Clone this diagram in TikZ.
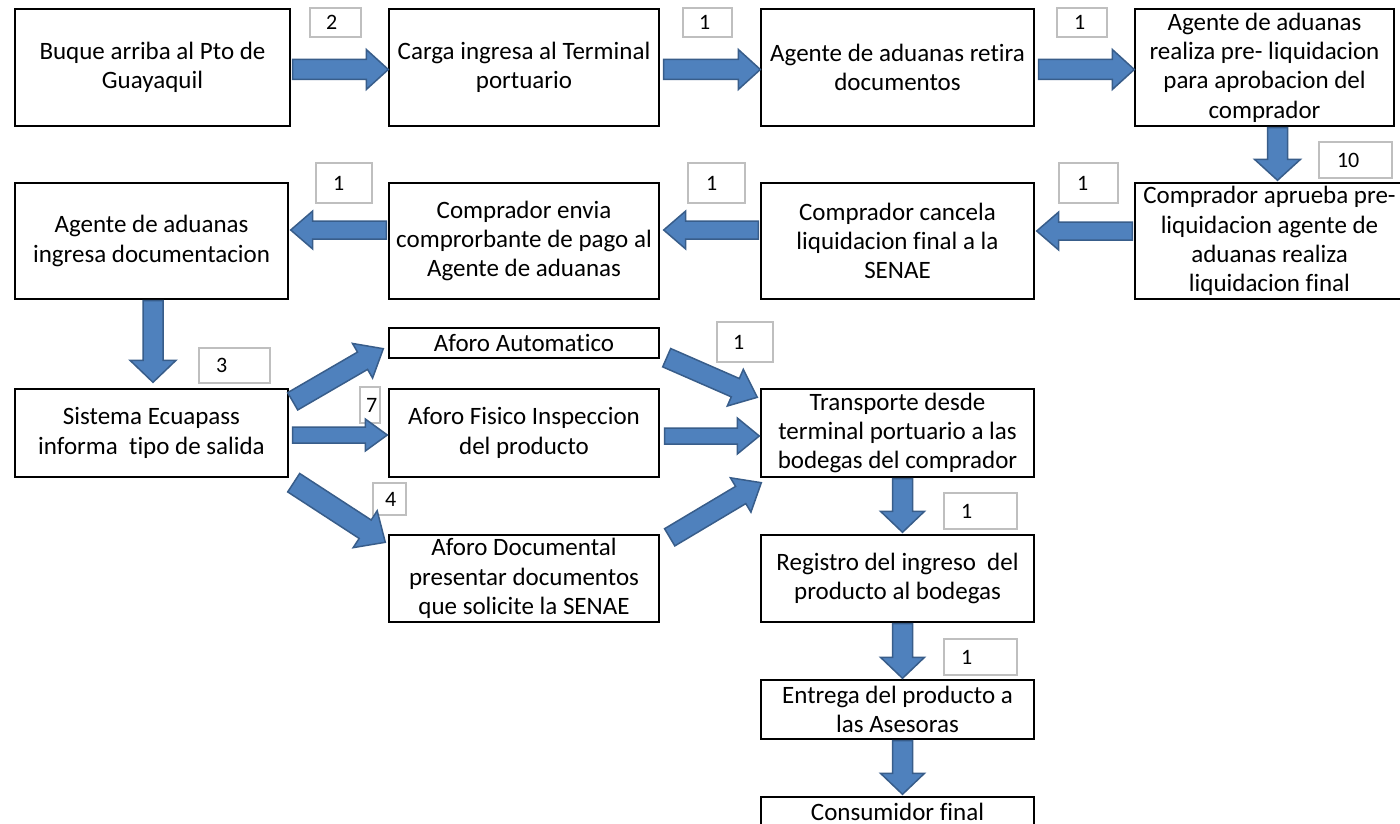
\documentclass[tikz,border=0pt]{standalone}
\usepackage{fontspec}
\setmainfont{Carlito}[Ligatures=NoCommon]
\usetikzlibrary{calc}
\definecolor{arrfill}{HTML}{4F81BD}
\definecolor{arrline}{HTML}{385D8A}
\definecolor{lblline}{HTML}{BFBFBF}
\tikzset{
  box/.style={draw=black, line width=1.4pt, fill=white, align=center, inner sep=0pt,
    font=\fontsize{25}{29.3}\selectfont},
  lbl/.style={draw=lblline, line width=1.2pt, fill=white, align=left, inner ysep=0pt,
    font=\fontsize{22}{26}\selectfont},
  blockarrow/.style={fill=arrfill, draw=arrline, line width=1.5pt, line join=miter},
}
\newcommand\bx[6]{\node[box, minimum width={(#4-#2)*1pt}, minimum height={(#5-#3)*1pt}] (#1) at ({(#2+#4)/2},{(#3+#5)/2}) {#6};}
\newcommand\lb[7]{\node[lbl, minimum width={(#4-#2)*1pt}, minimum height={(#5-#3)*1pt}, inner xsep={#6*1pt}, text width={(#4-#2-2*#6)*1pt}] (#1) at ({(#2+#4)/2},{(#3+#5)/2}) {#7};}
% body half width, head half width, head length, from, to
\newcommand\barrow[5]{%
  \coordinate (hb) at ($(#5)!#3pt!(#4)$);
  \draw[blockarrow] ($(#4)!#1pt!90:(#5)$) -- ($(hb)!#1pt!90:(#5)$) -- ($(hb)!#2pt!90:(#5)$)
    -- (#5) -- ($(hb)!#2pt!-90:(#5)$) -- ($(hb)!#1pt!-90:(#5)$) -- ($(#4)!#1pt!-90:(#5)$) -- cycle;}
\begin{document}
\begin{tikzpicture}[x=1pt,y=-1pt]
\useasboundingbox (0,0) rectangle (1400,824);
\fill[white] (0,0) rectangle (1400,824);
% main boxes
\bx{A}{15}{9}{290}{126}{Buque arriba al Pto de\\Guayaquil}
\bx{B}{389}{9}{659}{126}{Carga ingresa al Terminal\\portuario}
\bx{C}{761}{9}{1034}{126}{Agente de aduanas retira\\documentos}
\bx{D}{1135}{9}{1394}{126}{Agente de aduanas\\realiza pre- liquidacion\\para aprobacion del\\comprador}
\bx{E}{15}{183}{288}{299}{Agente de aduanas\\ingresa documentacion}
\bx{F}{389}{183}{659}{299}{Comprador envia\\comprorbante de pago al\\Agente de aduanas}
\bx{G}{761}{183}{1034}{299}{Comprador cancela\\liquidacion final a la\\SENAE}
\bx{H}{1135}{183}{1404}{299}{Comprador aprueba pre-\\liquidacion agente de\\aduanas realiza\\liquidacion final}
\bx{I}{15}{389}{288}{477}{Sistema Ecuapass\\informa\ \ tipo de salida}
\bx{J}{389}{328}{659}{358}{Aforo Automatico}
\bx{K}{389}{389}{659}{477}{Aforo Fisico Inspeccion\\del producto}
\bx{L}{389}{535}{659}{622}{Aforo Documental\\presentar documentos\\que solicite la SENAE}
\bx{M}{761}{389}{1034}{477}{Transporte desde\\terminal portuario a las\\bodegas del comprador}
\bx{N}{761}{535}{1034}{622}{Registro del ingreso\ \ del\\producto al bodegas}
\bx{O}{761}{680}{1034}{739}{Entrega del producto a\\las Asesoras}
\bx{P}{761}{797}{1034}{826}{Consumidor final}
% time labels
\lb{l1}{310}{8}{361}{37}{16}{2}
\lb{l2}{683}{8}{732}{37}{16}{1}
\lb{l3}{1057}{8}{1107}{37}{17}{1}
\lb{l4}{1319}{142}{1392}{178}{18}{10}
\lb{l5}{1059}{163}{1118}{203}{18}{1}
\lb{l6}{688}{163}{745}{203}{18}{1}
\lb{l7}{316}{163}{372}{203}{17}{1}
\lb{l8}{199}{348}{270}{383}{17}{3}
\lb{l9}{360}{387}{380}{423}{6}{7}
\lb{l10}{373}{483}{406}{515}{12}{4}
\lb{l11}{717}{322}{773}{362}{16}{1}
\lb{l12}{944}{493}{1017}{529}{17}{1}
\lb{l13}{944}{639}{1017}{675}{17}{1}
% arrow end points
\coordinate (ab1) at ($(A.east)+(2,2)$);   \coordinate (ab2) at ($(B.west)+(0,2)$);
\coordinate (bc1) at ($(B.east)+(4,2)$);   \coordinate (bc2) at ($(C.west)+(0,2)$);
\coordinate (cd1) at ($(C.east)+(4,2)$);   \coordinate (cd2) at ($(D.west)+(0,2)$);
\coordinate (dh1) at ($(D.south)+(13,1)$); \coordinate (dh2) at ($(H.north)+(8,-2)$);
\coordinate (hg1) at ($(H.west)+(-2,-10)$); \coordinate (hg2) at ($(G.east)+(2,-10)$);
\coordinate (gf1) at ($(G.west)+(-2,-11)$);\coordinate (gf2) at ($(F.east)+(4,-11)$);
\coordinate (fe1) at ($(F.west)+(-2,-11)$);\coordinate (fe2) at ($(E.east)+(2,-11)$);
\coordinate (ei1) at ($(E.south)+(1.5,1)$);\coordinate (ei2) at ($(I.north)+(1.5,-6)$);
\coordinate (ij1) at ($(I.north east)+(4,13)$); \coordinate (ij2) at ($(J.south west)+(-5,-10)$);
\coordinate (ik1) at ($(I.east)+(4,2)$);   \coordinate (ik2) at ($(K.west)+(-1,2)$);
\coordinate (il1) at ($(I.south east)+(5,5)$); \coordinate (il2) at ($(L.north west)+(-3,8)$);
\coordinate (jm1) at ($(J.south east)+(7,-1)$); \coordinate (jm2) at ($(M.north west)+(-3,9)$);
\coordinate (km1) at ($(K.east)+(5,3)$);   \coordinate (km2) at ($(M.west)+(-1,3)$);
\coordinate (lm1) at ($(L.north east)+(10,3)$); \coordinate (lm2) at ($(M.south west)+(1,5)$);
\coordinate (mn1) at ($(M.south)+(5,1)$);  \coordinate (mn2) at ($(N.north)+(5,-2)$);
\coordinate (no1) at ($(N.south)+(5,1)$);  \coordinate (no2) at ($(O.north)+(5,-1)$);
\coordinate (op1) at ($(O.south)+(5,1)$);  \coordinate (op2) at ($(P.north)+(5,-2)$);
% arrows
\barrow{10}{20}{22}{ab1}{ab2}
\barrow{10}{20}{22}{bc1}{bc2}
\barrow{10}{20}{22}{cd1}{cd2}
\barrow{10}{23}{21}{dh1}{dh2}
\barrow{9}{19}{22}{hg1}{hg2}
\barrow{9}{19}{22}{gf1}{gf2}
\barrow{9}{19}{22}{fe1}{fe2}
\barrow{10}{23}{22}{ei1}{ei2}
\barrow{10}{20}{24}{ij1}{ij2}
\barrow{8}{16}{22}{ik1}{ik2}
\barrow{11}{22}{24}{il1}{il2}
\barrow{10}{20}{24}{jm1}{jm2}
\barrow{8}{18}{22}{km1}{km2}
\barrow{10}{20}{24}{lm1}{lm2}
\barrow{10}{22}{21}{mn1}{mn2}
\barrow{10}{22}{21}{no1}{no2}
\barrow{10}{22}{21}{op1}{op2}
\end{tikzpicture}
\end{document}
